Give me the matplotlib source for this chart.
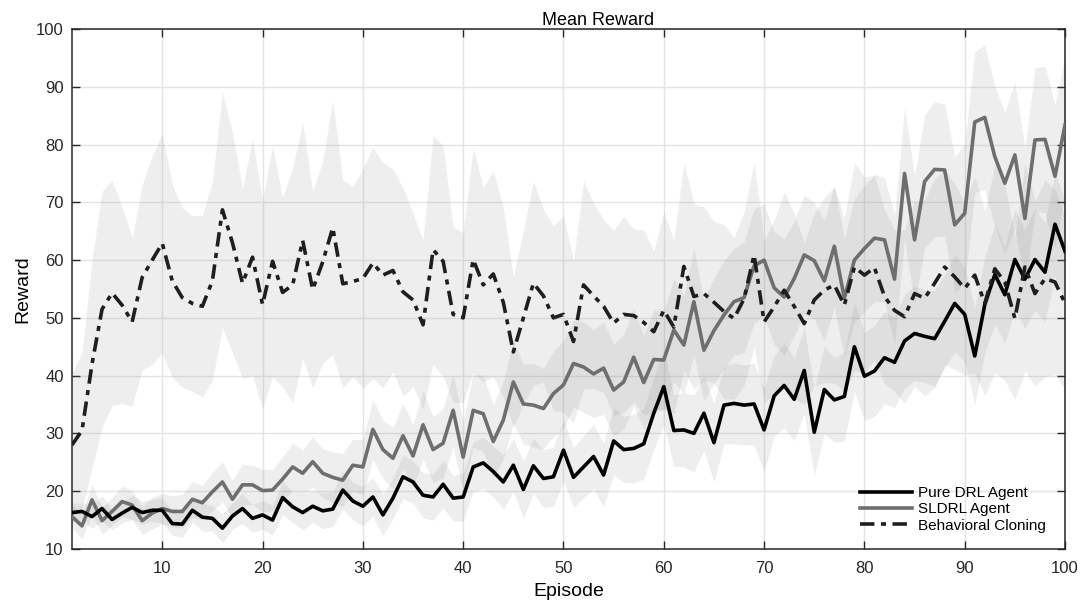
import numpy as np
import matplotlib
matplotlib.use("Agg")
import matplotlib.pyplot as plt

episodes = np.arange(1, 101)

# mean reward per episode
drlMean = [16.3, 16.5, 15.6, 17.0, 15.1, 16.2, 17.2, 16.3, 16.7, 16.7,
           14.4, 14.3, 16.7, 15.5, 15.3, 13.6, 15.7, 17.0, 15.3, 15.9,
           15.0, 18.9, 17.3, 16.3, 17.4, 16.6, 16.9, 20.2, 18.3, 17.4,
           19.0, 15.9, 18.8, 22.5, 21.6, 19.3, 19.0, 21.2, 18.8, 19.0,
           24.2, 24.9, 23.4, 21.6, 24.5, 20.3, 24.4, 22.2, 22.5, 27.1,
           22.4, 24.2, 26.0, 22.8, 28.7, 27.2, 27.4, 28.2, 33.5, 38.1,
           30.5, 30.6, 30.0, 33.5, 28.4, 34.9, 35.2, 34.9, 35.1, 30.6,
           36.5, 38.3, 35.9, 40.9, 30.2, 37.6, 35.8, 36.4, 45.0, 39.9,
           40.8, 43.1, 42.3, 46.0, 47.3, 46.8, 46.4, 49.4, 52.5, 50.6,
           43.4, 52.3, 57.5, 54.0, 60.1, 56.7, 60.1, 57.9, 66.2, 61.5]

sldrlMean = [15.6, 14.0, 18.5, 14.9, 16.5, 18.2, 17.6, 14.9, 16.2, 17.0,
             16.5, 16.5, 18.6, 18.0, 19.9, 21.6, 18.6, 21.1, 21.1, 20.1,
             20.2, 22.1, 24.2, 23.1, 25.1, 23.1, 22.4, 21.9, 24.5, 24.2,
             30.7, 27.2, 25.7, 29.6, 26.1, 31.5, 27.2, 28.3, 34.0, 25.9,
             34.0, 33.4, 28.6, 32.3, 38.9, 35.1, 34.9, 34.3, 36.9, 38.4,
             42.1, 41.5, 40.3, 41.3, 37.5, 38.9, 43.2, 38.8, 42.8, 42.7,
             47.9, 45.3, 52.8, 44.4, 47.8, 50.5, 52.8, 53.5, 59.0, 60.0,
             55.2, 53.6, 56.8, 60.9, 59.9, 56.4, 62.4, 53.4, 60.0, 62.0,
             63.8, 63.5, 56.7, 75.0, 63.5, 73.6, 75.7, 75.6, 66.1, 68.1,
             83.9, 84.7, 77.9, 73.3, 78.2, 67.2, 80.8, 80.9, 74.5, 83.4]

bcMean = [28.0, 30.5, 42.0, 51.5, 54.3, 52.2, 49.3, 57.0, 60.0, 62.9,
          56.4, 53.5, 52.5, 52.0, 56.4, 68.7, 63.0, 56.0, 60.5, 52.3,
          59.8, 54.4, 55.7, 63.4, 54.9, 59.7, 65.6, 55.9, 56.3, 56.8,
          59.5, 57.4, 58.2, 54.5, 53.1, 48.8, 61.8, 59.8, 50.6, 50.0,
          60.1, 55.7, 57.6, 52.7, 44.1, 50.0, 56.0, 53.8, 50.0, 50.6,
          45.9, 55.7, 53.8, 52.0, 49.1, 50.6, 50.4, 49.2, 47.6, 51.3,
          48.4, 58.9, 53.7, 54.2, 52.7, 51.1, 49.9, 53.3, 60.9, 49.3,
          51.9, 54.8, 52.0, 49.0, 53.1, 54.8, 55.7, 52.2, 58.8, 57.4,
          58.7, 53.7, 51.3, 50.2, 54.2, 53.4, 56.0, 58.8, 57.1, 55.1,
          57.4, 52.5, 58.5, 56.2, 49.9, 58.8, 54.2, 56.8, 56.2, 52.5]

# half width of the shaded bands
drlStd = [1.6, 1.5, 2.0, 2.2, 1.8, 1.7, 2.1, 2.0, 1.9, 2.2,
          2.0, 2.3, 2.1, 2.4, 2.2, 2.5, 2.3, 2.6, 2.4, 2.5,
          2.6, 2.9, 2.7, 3.0, 2.8, 3.1, 3.0, 3.3, 3.2, 3.4,
          3.3, 3.6, 3.5, 3.8, 3.6, 3.9, 4.0, 4.1, 3.9, 4.2,
          4.3, 4.5, 4.4, 4.7, 4.6, 4.9, 4.8, 5.0, 5.1, 5.3,
          5.2, 5.4, 5.6, 5.5, 5.8, 5.7, 6.0, 6.1, 6.3, 6.5,
          6.2, 6.4, 6.6, 6.5, 6.8, 6.7, 7.0, 6.9, 7.1, 7.2,
          7.0, 7.3, 7.2, 7.5, 7.4, 7.6, 7.3, 7.7, 7.8, 7.6,
          7.9, 8.0, 7.8, 8.1, 8.2, 8.0, 8.3, 8.1, 8.4, 8.2,
          8.5, 8.3, 8.6, 8.4, 8.7, 8.5, 8.8, 8.6, 8.9, 8.7]

sldrlStd = [2.0, 2.2, 2.6, 2.3, 2.4, 2.7, 2.5, 2.4, 2.8, 2.6,
            2.7, 2.9, 3.1, 3.0, 3.3, 3.5, 3.2, 3.6, 3.4, 3.7,
            3.6, 3.9, 4.1, 4.0, 4.3, 4.2, 4.4, 4.6, 4.5, 4.8,
            5.2, 5.0, 5.3, 5.6, 5.4, 5.9, 5.7, 6.0, 6.3, 6.1,
            6.4, 6.6, 6.3, 6.8, 7.1, 6.9, 7.2, 7.0, 7.4, 7.6,
            7.5, 7.8, 7.6, 8.0, 7.9, 8.2, 8.4, 8.1, 8.5, 8.7,
            8.9, 8.6, 9.2, 8.8, 9.1, 9.4, 9.2, 9.6, 9.9, 9.7,
            9.8, 10.1, 9.9, 10.3, 10.1, 10.4, 10.6, 10.3, 10.7, 10.9,
            11.0, 10.8, 11.2, 11.4, 11.1, 11.5, 11.7, 11.4, 11.8, 12.0,
            12.2, 12.5, 12.1, 12.3, 12.6, 12.2, 12.4, 12.7, 12.3, 12.0]

bcStd = [12.5, 13.5, 18.0, 20.4, 19.5, 17.0, 14.6, 16.0, 18.0, 19.0,
         16.7, 15.5, 15.2, 15.7, 17.2, 20.4, 19.0, 16.5, 20.4, 18.0,
         20.0, 16.4, 20.3, 20.4, 17.0, 17.5, 22.0, 18.0, 16.5, 19.0,
         20.0, 19.5, 17.5, 18.0, 15.0, 14.6, 19.8, 20.0, 15.2, 14.7,
         19.5, 16.8, 17.8, 16.4, 13.0, 15.0, 17.6, 15.0, 16.0, 17.0,
         14.0, 18.0, 16.0, 15.0, 16.0, 17.0, 15.0, 16.0, 14.0, 17.0,
         15.0, 18.0, 16.0, 15.0, 14.0, 15.0, 14.0, 15.0, 16.0, 14.0,
         15.0, 17.0, 16.0, 14.0, 15.0, 16.0, 17.0, 15.0, 18.0, 17.0,
         16.0, 15.0, 14.0, 15.0, 16.0, 17.0, 18.0, 17.0, 16.0, 15.0,
         17.0, 16.0, 18.0, 17.0, 14.0, 18.0, 16.0, 17.0, 16.0, 15.0]

labels = ["Pure DRL Agent", "SLDRL Agent", "Behavioral Cloning"]

plt.rcParams["font.family"] = ["Liberation Sans", "DejaVu Sans"]

fig = plt.figure(figsize=(10.87, 6.14), dpi=100)
ax = fig.add_axes([0.0662, 0.1059, 0.9136, 0.8469])

for mean, std in [(drlMean, drlStd), (sldrlMean, sldrlStd), (bcMean, bcStd)]:
    mean = np.array(mean)
    std = np.array(std)
    ax.fill_between(episodes, mean - std, mean + std, color="0.5", alpha=0.13, linewidth=0, zorder=1)

ax.plot(episodes, drlMean, color="black", lw=2.6, label=labels[0], zorder=4)
ax.plot(episodes, sldrlMean, color="#6e6e6e", lw=2.6, label=labels[1], zorder=3)
ax.plot(episodes, bcMean, color="#1e1e1e", lw=2.6, dashes=(4.0, 1.8, 1.4, 1.8), label=labels[2], zorder=5)

ax.set_xlim(1, 100)
ax.set_ylim(10, 100)
ax.set_xticks(np.arange(10, 101, 10))
ax.set_yticks(np.arange(10, 101, 10))
ax.grid(True, color="#e4e4e4", lw=1.0, zorder=0)
ax.set_axisbelow(True)
ax.tick_params(direction="in", length=6, width=1, top=True, right=True, labelsize=12, colors="#262626")
ax.tick_params(axis="x", pad=8.5)
ax.tick_params(axis="y", pad=6)
for s in ax.spines.values():
    s.set_color("#262626")
    s.set_linewidth(1.1)

ax.set_title("Mean Reward", fontsize=13, pad=3, x=0.53)
ax.set_xlabel("Episode", fontsize=14, labelpad=5)
ax.set_ylabel("Reward", fontsize=14, labelpad=3)

ax.legend(loc="lower right", bbox_to_anchor=(0.995, 0.005), frameon=False, fontsize=11,
          handlelength=3.4, handletextpad=0.45, labelspacing=0.15)

fig.savefig("out.png", dpi=100)
